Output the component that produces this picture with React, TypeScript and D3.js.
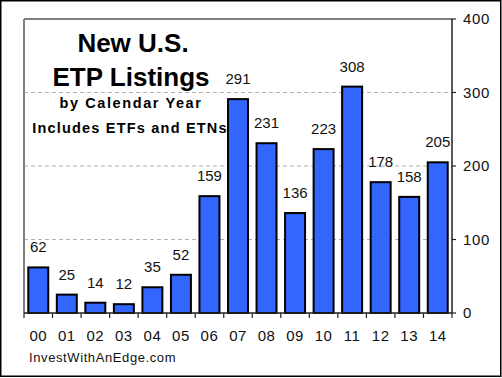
import React from "react";
import * as d3 from "d3";

const years = ["00", "01", "02", "03", "04", "05", "06", "07", "08", "09", "10", "11", "12", "13", "14"];
const listings = [62, 25, 14, 12, 35, 52, 159, 291, 231, 136, 223, 308, 178, 158, 205];
const yTicks = [0, 100, 200, 300, 400];
const titleLines = ["New U.S.", "ETP Listings"];
const subtitleLines = ["by Calendar Year", "Includes ETFs and ETNs"];
const footer = "InvestWithAnEdge.com";

const W = 502;
const H = 378;
const left = 24;
const right = 452;
const top = 19;
const bottom = 313;

export default function App() {
  const x = d3.scaleBand<string>().domain(years).range([left, right]).paddingInner(0.3).paddingOuter(0.15);
  const y = d3.scaleLinear().domain([0, 400]).range([bottom, top]);
  const step = x.step();
  const font = "Arial, 'Liberation Sans', sans-serif";
  const boundaries = d3.range(years.length + 1).map((i) => left + ((right - left) * i) / years.length);

  return (
    <svg
      width={W}
      height={H}
      style={{ position: "absolute", left: 0, top: 0, background: "#fff" }}
      fontFamily={font}
    >
      <rect x={0.75} y={0.75} width={500} height={375.5} fill="#fff" stroke="#000" strokeWidth={1.5} />
      {/* gridlines */}
      {yTicks
        .filter((t) => t > 0 && t < 400)
        .map((t) => (
          <line key={t} x1={left} x2={right} y1={y(t)} y2={y(t)} stroke="#b0b0b0" strokeWidth={1} strokeDasharray="4,3" />
        ))}
      {/* plot frame top/left grey */}
      <line x1={left} x2={right} y1={top} y2={top} stroke="#808080" strokeWidth={2} />
      <line x1={left} x2={left} y1={top} y2={bottom} stroke="#808080" strokeWidth={2} />
      {/* bars */}
      {listings.map((v, i) => (
        <rect
          key={years[i]}
          x={x(years[i])!}
          y={y(v)}
          width={x.bandwidth()}
          height={y(0) - y(v)}
          fill="#3366FF"
          stroke="#000"
          strokeWidth={2}
        />
      ))}
      {/* value labels */}
      {listings.map((v, i) => (
        <text key={"l" + i} x={x(years[i])! + x.bandwidth() / 2} y={y(v) - 15} textAnchor="middle" fontSize={15} fill="#111">
          {v}
        </text>
      ))}
      {/* right axis */}
      <line x1={right} x2={right} y1={top} y2={bottom} stroke="#222" strokeWidth={1.5} />
      {yTicks.map((t) => (
        <g key={"t" + t}>
          <line x1={right} x2={right + 4} y1={y(t)} y2={y(t)} stroke="#222" strokeWidth={1.2} />
          <text x={463} y={y(t) + 5} fontSize={15} letterSpacing={0.6} fill="#111">
            {t}
          </text>
        </g>
      ))}
      {/* bottom axis */}
      <line x1={left} x2={right} y1={bottom} y2={bottom} stroke="#222" strokeWidth={1.5} />
      {boundaries.map((b, i) => (
        <line key={"b" + i} x1={b} x2={b} y1={bottom} y2={bottom + 5} stroke="#222" strokeWidth={1.2} />
      ))}
      {years.map((yr) => (
        <text key={"x" + yr} x={x(yr)! + x.bandwidth() / 2} y={340.5} textAnchor="middle" fontSize={15} letterSpacing={0.5} fill="#111">
          {yr}
        </text>
      ))}
      {/* title */}
      <text x={133} y={52} textAnchor="middle" fontSize={26} fontWeight="bold" fill="#000">
        {titleLines[0]}
      </text>
      <text x={131} y={86} textAnchor="middle" fontSize={26} fontWeight="bold" fill="#000">
        {titleLines[1]}
      </text>
      <text x={131} y={107.5} textAnchor="middle" fontSize={14.5} fontWeight="bold" letterSpacing={1.6} fill="#000">
        {subtitleLines[0]}
      </text>
      <text x={130} y={133} textAnchor="middle" fontSize={14.5} fontWeight="bold" letterSpacing={1.2} fill="#000">
        {subtitleLines[1]}
      </text>
      {/* footer */}
      <text x={29} y={361.5} fontSize={13} letterSpacing={0.6} fill="#111">
        {footer}
      </text>
    </svg>
  );
}
